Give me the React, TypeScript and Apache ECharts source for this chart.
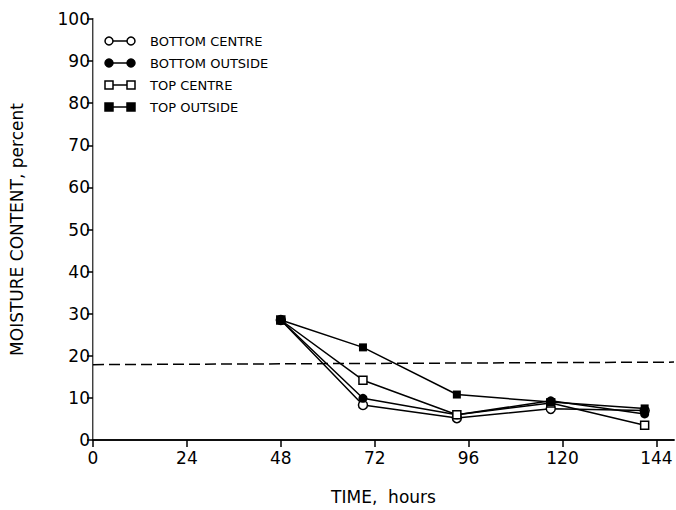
import React, { useEffect, useRef } from "react";
import * as echarts from "echarts";

const times = [48, 69, 93, 117, 141];
const seriesNames = ["BOTTOM CENTRE", "BOTTOM OUTSIDE", "TOP CENTRE", "TOP OUTSIDE"];
const bottomCentre = [28.5, 8.3, 5.2, 7.4, 7.0];
const bottomOutside = [28.5, 9.9, 6.0, 9.3, 6.2];
const topCentre = [28.5, 14.2, 6.0, 8.8, 3.5];
const topOutside = [28.5, 22.0, 10.8, 9.0, 7.5];
const xTicks = [0, 24, 48, 72, 96, 120, 144];
const thresholdLine = [[0, 17.9], [148.5, 18.5]];

const symbols = ["circle", "circle", "rect", "rect"];
const hollow = [true, false, true, false];
const valuesList = [bottomCentre, bottomOutside, topCentre, topOutside];

export default function App() {
  const ref = useRef<HTMLDivElement>(null);
  useEffect(() => {
    const chart = echarts.init(ref.current!, null, { renderer: "svg" });
    const font = "DejaVu Sans";
    const series: any[] = valuesList.map((vals, i) => ({
      name: seriesNames[i],
      type: "line",
      data: times.map((t, j) => [t, vals[j]]),
      symbol: symbols[i],
      symbolSize: symbols[i] === "circle" ? 9 : 8,
      lineStyle: { color: "#000", width: 1.5 },
      itemStyle: {
        color: hollow[i] ? "#fff" : "#000",
        borderColor: "#000",
        borderWidth: hollow[i] ? 1.5 : 0,
      },
      z: 3 + i,
    }));
    series.push({
      type: "line",
      data: [],
      markLine: {
        silent: true,
        symbol: "none",
        label: { show: false },
        lineStyle: { color: "#000", width: 1.5, type: [11, 5] },
        data: [[{ coord: thresholdLine[0] }, { coord: thresholdLine[1] }]],
      },
    });

    const legendGraphics: any[] = [];
    seriesNames.forEach((name, i) => {
      const cy = 41 + i * 22;
      const x1 = 109, x2 = 131;
      legendGraphics.push({
        type: "line",
        shape: { x1, y1: cy, x2, y2: cy },
        style: { stroke: "#000", lineWidth: 1.5 },
      });
      [x1, x2].forEach((cx) => {
        if (symbols[i] === "circle") {
          legendGraphics.push({
            type: "circle",
            shape: { cx, cy, r: 4 },
            style: { fill: hollow[i] ? "#fff" : "#000", stroke: "#000", lineWidth: 1.5 },
          });
        } else {
          legendGraphics.push({
            type: "rect",
            shape: { x: cx - 4, y: cy - 4, width: 8, height: 8 },
            style: { fill: hollow[i] ? "#fff" : "#000", stroke: "#000", lineWidth: 1.5 },
          });
        }
      });
      legendGraphics.push({
        type: "text",
        x: 150,
        y: cy,
        style: { text: name, fill: "#000", font: `13px '${font}'`, textVerticalAlign: "middle" },
      });
    });

    chart.setOption({
      animation: false,
      backgroundColor: "#fff",
      grid: { left: 92, right: 2, top: 19, bottom: 67, containLabel: false },
      xAxis: [
        {
          type: "value",
          min: 0,
          max: 148.5,
          name: "TIME,  hours",
          nameLocation: "middle",
          nameGap: 48,
          nameTextStyle: { fontFamily: font, fontSize: 17, color: "#000" },
          splitLine: { show: false },
          axisLine: { lineStyle: { color: "#000", width: 1.5 } },
          axisTick: { customValues: xTicks, length: 7, lineStyle: { color: "#000", width: 1.5 } },
          axisLabel: {
            customValues: xTicks,
            fontFamily: font,
            fontSize: 17,
            color: "#000",
            margin: 9,
          },
        },
        {
          type: "value",
          position: "top",
          min: 0,
          max: 148.5,
          axisLine: { show: true, lineStyle: { color: "#000", width: 1.5 } },
          axisTick: { show: false },
          axisLabel: { show: false },
          splitLine: { show: false },
        },
      ],
      yAxis: [
        {
          type: "value",
          min: 0,
          max: 100,
          interval: 10,
          name: "MOISTURE CONTENT, percent",
          nameLocation: "middle",
          nameGap: 68,
          nameRotate: 90,
          nameTextStyle: { fontFamily: font, fontSize: 17, color: "#000" },
          splitLine: { show: false },
          axisLine: { show: true, lineStyle: { color: "#000", width: 1.5 } },
          axisTick: { show: true, length: 6, lineStyle: { color: "#000", width: 1.5 } },
          axisLabel: { fontFamily: font, fontSize: 17, color: "#000", margin: 3 },
        },
        {
          type: "value",
          position: "right",
          min: 0,
          max: 100,
          axisLine: { show: true, lineStyle: { color: "#aaa", width: 1 } },
          axisTick: { show: false },
          axisLabel: { show: false },
          splitLine: { show: false },
        },
      ],
      series,
      graphic: legendGraphics,
    });
    return () => chart.dispose();
  }, []);
  return <div ref={ref} style={{ width: 676, height: 510, position: "absolute", left: 0, top: 0 }} />;
}
